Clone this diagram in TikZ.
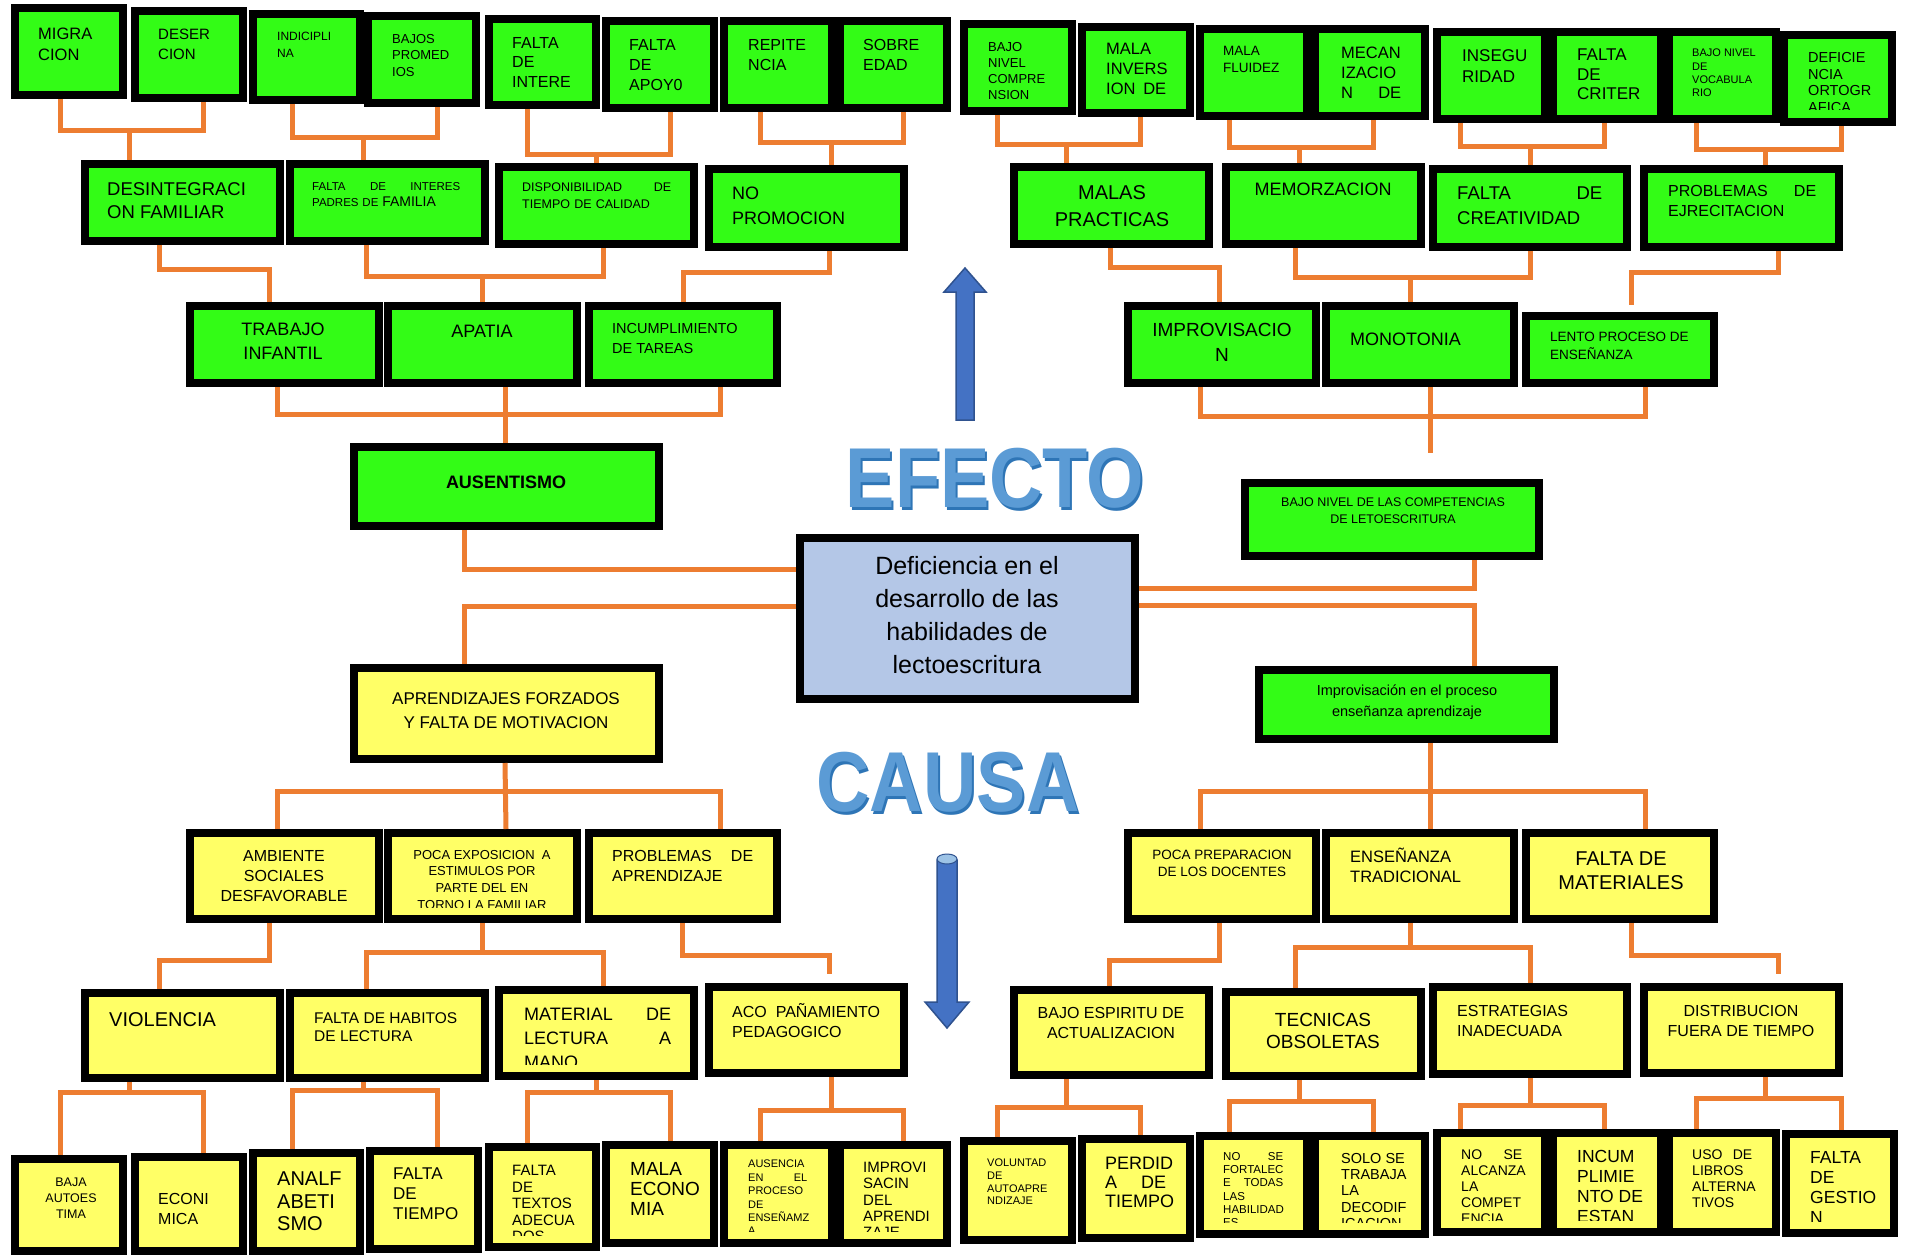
\documentclass[tikz,border=0pt]{standalone}
\usepackage{fontspec}
\setmainfont{Liberation Sans}
\usetikzlibrary{calc}
\definecolor{bgreen}{HTML}{33FC16}
\definecolor{byellow}{HTML}{FFFF66}
\definecolor{cblue}{HTML}{B4C7E7}
\definecolor{corange}{HTML}{ED7D31}
\definecolor{ablue}{HTML}{4472C4}
\definecolor{aedge}{HTML}{2F528F}
\definecolor{capblue}{HTML}{9DC3E6}
\definecolor{wblue}{HTML}{5B9BD5}
\definecolor{wdark}{HTML}{2E75B6}
\newcommand\fz[2]{\fontsize{#1}{#2}\selectfont}
\newcommand\jf{\hskip 0pt plus 1filll\relax}
\tikzset{
 box/.style={draw=black, line width=8pt, inner sep=0pt, rectangle},
 gb/.style={box, fill=bgreen},
 yb/.style={box, fill=byellow},
 cb/.style={box, fill=cblue},
 tx/.style={inner sep=0pt, anchor=north west, align=left, text=black},
 tc/.style={inner sep=0pt, anchor=north, align=center, text=black},
 conn/.style={draw=corange, line width=5pt},
 bigword/.style={inner sep=0pt, font=\bfseries\fz{85}{85}},
}
\newcommand\bx[8]{%
  \pgfmathsetmacro\bxw{#4-#2-8}%
  \pgfmathsetmacro\bxh{#5-#3-8}%
  \pgfmathsetmacro\bxcx{(#2+#4)/2}%
  \pgfmathsetmacro\bxcy{(#3+#5)/2}%
  \node[#6, minimum width=\bxw pt, minimum height=\bxh pt] (#1) at (\bxcx,\bxcy) {};
  \begin{scope}
    \clip (#2+8,#3+8) rectangle (#4-8,#5-16);
    \node[tx, #7] (#1t) {#8};
  \end{scope}}
\begin{document}
\begin{tikzpicture}[x=1pt,y=-1pt]
\useasboundingbox (0,0) rectangle (1908,1257);
\fill[white] (0,0) rectangle (1908,1257);

% ---------- EFFECT row 1
\bx{e1}{11}{4}{127}{99}{gb}{font=\fz{16.5}{21}, at={(38,28)}}{MIGRA\\CION}
\bx{e2}{131}{7}{247}{102}{gb}{font=\fz{15}{20}, at={(158,29)}}{DESER\\CION}
\bx{e3}{249}{10}{364}{104}{gb}{font=\fz{12}{17}, at={(277,32)}}{INDICIPLI\\NA}
\bx{e4}{364}{12}{480}{107}{gb}{font=\fz{13}{16.7}, at={(392,34)}}{BAJOS\\PROMED\\IOS}
\bx{e5}{485}{15}{600}{109}{gb}{font=\fz{16}{19.5}, at={(512,37)}}{FALTA\\DE\\INTERE}
\bx{e6}{602}{17}{718}{112}{gb}{font=\fz{16}{20}, at={(629,39)}}{FALTA\\DE\\APOY0}
\bx{e7}{720}{17}{836}{112}{gb}{font=\fz{16}{20}, at={(748,39)}}{REPITE\\NCIA}
\bx{e8}{836}{17}{951}{112}{gb}{font=\fz{16}{20}, at={(863,39)}}{SOBRE\\EDAD}
\bx{e9}{960}{20}{1076}{115}{gb}{font=\fz{13}{16.2}, at={(988,42)}}{BAJO\\NIVEL\\COMPRE\\NSION}
\bx{e10}{1078}{23}{1194}{117}{gb}{font=\fz{16.5}{20}, at={(1106,43)}, text width=60}{MALA\\INVERS\\ION\jf DE}
\bx{e11}{1196}{25}{1311}{120}{gb}{font=\fz{13.5}{17}, at={(1223,46)}}{MALA\\FLUIDEZ}
\bx{e12}{1311}{25}{1429}{120}{gb}{font=\fz{16.5}{20}, at={(1341,47)}, text width=60}{MECAN\\IZACIO\\N\jf DE}
\bx{e13}{1433}{28}{1549}{123}{gb}{font=\fz{17}{21}, at={(1462,49)}}{INSEGU\\RIDAD}
\bx{e14}{1549}{28}{1665}{123}{gb}{font=\fz{17}{19.5}, at={(1577,49)}}{FALTA\\DE\\CRITER}
\bx{e15}{1665}{28}{1780}{123}{gb}{font=\fz{11}{13.2}, at={(1692,49)}}{BAJO NIVEL\\DE\\VOCABULA\\RIO}
\bx{e16}{1780}{31}{1896}{126}{gb}{font=\fz{14.5}{16.7}, at={(1808,52)}}{DEFICIE\\NCIA\\ORTOGR\\AFICA}

% ---------- EFFECT row 2
\bx{e17}{81}{160}{284}{245}{gb}{font=\fz{18.5}{23}, at={(107,182)}}{DESINTEGRACI\\ON FAMILIAR}
\bx{e18}{286}{160}{489}{245}{gb}{font=\fz{11.5}{16}, at={(312,182)}, text width=148}{FALTA\jf DE\jf INTERES\\PADRES DE {\fz{14}{16}FAMILIA}}
\bx{e19}{495}{163}{698}{248}{gb}{font=\fz{12.5}{17}, at={(522,183)}, text width=149}{DISPONIBILIDAD\jf DE\\TIEMPO DE CALIDAD}
\bx{e20}{705}{165}{908}{251}{gb}{font=\fz{18}{25}, at={(732,187)}}{NO\\PROMOCION}
\bx{e25}{1010}{163}{1213}{248}{gb}{tc, font=\fz{20}{27}, at={(1112,185)}}{MALAS\\PRACTICAS}
\bx{e26}{1222}{163}{1425}{248}{gb}{tc, font=\fz{18}{22}, at={(1323,183)}}{MEMORZACION}
\bx{e27}{1429}{165}{1631}{251}{gb}{font=\fz{18.5}{25}, at={(1457,187)}, text width=145}{FALTA\jf DE\\CREATIVIDAD}
\bx{e28}{1640}{165}{1843}{251}{gb}{font=\fz{16}{20}, at={(1668,185)}, text width=148}{PROBLEMAS\jf DE\\EJRECITACION}

% ---------- EFFECT row 3
\bx{e21}{186}{302}{383}{387}{gb}{tc, font=\fz{18}{24}, at={(283,323)}}{TRABAJO\\INFANTIL}
\bx{e22}{384}{302}{581}{387}{gb}{tc, font=\fz{18}{24}, at={(482,325)}}{APATIA}
\bx{e23}{585}{302}{781}{387}{gb}{font=\fz{14.5}{20}, at={(612,323)}}{INCUMPLIMIENTO\\DE TAREAS}
\bx{e29}{1124}{302}{1320}{387}{gb}{tc, font=\fz{19}{25}, at={(1222,323)}}{IMPROVISACIO\\N}
\bx{e30}{1322}{302}{1518}{387}{gb}{font=\fz{18}{22}, at={(1350,333)}}{MONOTONIA}
\bx{e31}{1522}{312}{1718}{387}{gb}{font=\fz{13.5}{17.5}, at={(1550,332)}}{LENTO PROCESO DE\\ENSEÑANZA}

\bx{e24}{350}{443}{663}{530}{gb}{tc, font=\bfseries\fz{18}{22}, at={(506,476)}}{AUSENTISMO}
\bx{e32}{1241}{479}{1543}{560}{gb}{tc, font=\fz{12.5}{16.5}, at={(1393,498)}}{BAJO NIVEL DE LAS COMPETENCIAS\\DE LETOESCRITURA}

% ---------- centre
\bx{c0}{796}{534}{1139}{703}{cb}{tc, font=\fz{25}{33}, at={(967,556)}}{Deficiencia en el\\desarrollo de las\\habilidades de\\lectoescritura}
\bx{c1}{1255}{666}{1558}{743}{gb}{tc, font=\fz{14.5}{21}, at={(1407,685)}}{Improvisación en el proceso\\enseñanza aprendizaje}
\bx{c2}{350}{664}{663}{763}{yb}{tc, font=\fz{17}{24}, at={(506,692)}}{APRENDIZAJES FORZADOS\\Y FALTA DE MOTIVACION}

% ---------- CAUSE row 1
\bx{c3}{186}{829}{383}{923}{yb}{tc, font=\fz{16}{20}, at={(284,850)}}{AMBIENTE\\SOCIALES\\DESFAVORABLE}
\bx{c4}{384}{829}{581}{923}{yb}{tc, font=\fz{13}{16.7}, at={(482,850)}}{POCA EXPOSICION\ \ A\\ESTIMULOS POR\\PARTE DEL EN\\TORNO LA FAMILIAR}
\bx{c5}{585}{829}{781}{923}{yb}{font=\fz{16}{20}, at={(612,850)}, text width=141}{PROBLEMAS\jf DE\\APRENDIZAJE}
\bx{c6}{1124}{829}{1320}{923}{yb}{tc, font=\fz{13.5}{17}, at={(1222,850)}}{POCA PREPARACION\\DE LOS DOCENTES}
\bx{c7}{1322}{829}{1518}{923}{yb}{font=\fz{16.5}{20}, at={(1350,848)}}{ENSEÑANZA\\TRADICIONAL}
\bx{c8}{1522}{829}{1718}{923}{yb}{tc, font=\fz{20}{24}, at={(1621,852)}}{FALTA DE\\MATERIALES}

% ---------- CAUSE row 2
\bx{c9}{81}{989}{284}{1082}{yb}{font=\fz{20}{24}, at={(109,1012)}}{VIOLENCIA}
\bx{c10}{286}{989}{489}{1082}{yb}{font=\fz{15.5}{18}, at={(314,1012)}}{FALTA DE HABITOS\\DE LECTURA}
\bx{c11}{495}{986}{698}{1080}{yb}{font=\fz{18}{24}, at={(524,1008)}, text width=147}{MATERIAL\jf DE\\LECTURA\jf A\\MANO}
\bx{c12}{705}{983}{908}{1077}{yb}{font=\fz{16}{20}, at={(732,1003)}}{ACO\ \ PAÑAMIENTO\\PEDAGOGICO}
\bx{c13}{1010}{986}{1213}{1079}{yb}{tc, font=\fz{16}{20}, at={(1111,1007)}}{BAJO ESPIRITU DE\\ACTUALIZACION}
\bx{c14}{1222}{988}{1425}{1080}{yb}{tc, font=\fz{19}{22}, at={(1323,1013)}}{TECNICAS\\OBSOLETAS}
\bx{c15}{1429}{983}{1631}{1078}{yb}{font=\fz{16}{20}, at={(1457,1005)}}{ESTRATEGIAS\\INADECUADA}
\bx{c16}{1640}{983}{1843}{1077}{yb}{tc, font=\fz{16}{20}, at={(1741,1005)}}{DISTRIBUCION\\FUERA DE TIEMPO}

% ---------- CAUSE row 3
\bx{c17}{11}{1155}{127}{1255}{yb}{tc, font=\fz{12.5}{16}, at={(71,1178)}}{BAJA\\AUTOES\\TIMA}
\bx{c18}{131}{1153}{247}{1255}{yb}{font=\fz{16}{20}, at={(158,1193)}}{ECONI\\MICA}
\bx{c19}{249}{1149}{364}{1255}{yb}{font=\fz{20}{22.5}, at={(277,1172)}}{ANALF\\ABETI\\SMO}
\bx{c20}{366}{1147}{482}{1253}{yb}{font=\fz{17}{20}, at={(393,1168)}}{FALTA\\DE\\TIEMPO}
\bx{c21}{485}{1143}{600}{1251}{yb}{font=\fz{15}{16.5}, at={(512,1165)}}{FALTA\\DE\\TEXTOS\\ADECUA\\DOS}
\bx{c22}{602}{1141}{718}{1247}{yb}{font=\fz{19}{20}, at={(630,1162)}}{MALA\\ECONO\\MIA}
\bx{c23}{720}{1141}{836}{1247}{yb}{font=\fz{11}{13.4}, at={(748,1160)}, text width=59}{AUSENCIA\\EN\jf EL\\PROCESO\\DE\\ENSEÑAMZ\\A}
\bx{c24}{836}{1141}{951}{1247}{yb}{font=\fz{15}{16.3}, at={(863,1162)}}{IMPROVI\\SACIN\\DEL\\APRENDI\\ZAJE}
\bx{c25}{960}{1137}{1076}{1244}{yb}{font=\fz{11}{12.7}, at={(987,1159)}}{VOLUNTAD\\DE\\AUTOAPRE\\NDIZAJE}
\bx{c26}{1078}{1135}{1194}{1242}{yb}{font=\fz{18}{19}, at={(1105,1157)}, text width=61}{PERDID\\A\jf DE\\TIEMPO}
\bx{c27}{1196}{1132}{1311}{1238}{yb}{font=\fz{11.5}{13.3}, at={(1223,1152)}, text width=60}{NO\jf SE\\FORTALEC\\E\jf TODAS\\LAS\\HABILIDAD\\ES}
\bx{c28}{1311}{1132}{1429}{1238}{yb}{font=\fz{14.5}{16.3}, at={(1341,1153)}}{SOLO SE\\TRABAJA\\LA\\DECODIF\\ICACION}
\bx{c29}{1433}{1129}{1549}{1236}{yb}{font=\fz{14}{16}, at={(1461,1150)}, text width=61}{NO\jf SE\\ALCANZA\\LA\\COMPET\\ENCIA}
\bx{c30}{1549}{1129}{1665}{1236}{yb}{font=\fz{17.5}{20}, at={(1577,1150)}}{INCUM\\PLIMIE\\NTO DE\\ESTAN}
\bx{c31}{1665}{1129}{1780}{1236}{yb}{font=\fz{14}{16}, at={(1692,1150)}, text width=60}{USO\jf DE\\LIBROS\\ALTERNA\\TIVOS}
\bx{c32}{1782}{1130}{1898}{1237}{yb}{font=\fz{17.5}{20}, at={(1810,1151)}}{FALTA\\DE\\GESTIO\\N}

% ---------- free ends
\coordinate (k1) at (1631,305);
\coordinate (k2) at (1430,453);
\coordinate (k3) at (829,974);
\coordinate (k4) at (1778,974);

% ---------- connectors: effect top
\draw[conn] ([xshift=-9]e1.south) -- ++(0,32) -| ([xshift=14]e2.south);
\draw[conn] ([xshift=-53.5]e17.north) -- ++(0,-29);
\draw[conn] ([xshift=-14.5]e3.south) -- ++(0,34) -| ([xshift=15]e4.south);
\draw[conn] ([xshift=-24.5]e18.north) -- ++(0,-22);
\draw[conn] ([xshift=-15.5]e5.south) -- ++(0,46) -| ([xshift=10]e6.south);
\draw[conn] (e19.north) -- ++(0,-8);
\draw[conn] ([xshift=-18]e7.south) -- ++(0,31) -| ([xshift=9.5]e8.south);
\draw[conn] ([xshift=24.5]e20.north) -- ++(0,-22);
\draw[conn] ([xshift=-21]e9.south) -- ++(0,30) -| ([xshift=4]e10.south);
\draw[conn] ([xshift=-45.5]e25.north) -- ++(0,-18);
\draw[conn] ([xshift=-24.5]e11.south) -- ++(0,28) -| ([xshift=3]e12.south);
\draw[conn] ([xshift=-24.5]e26.north) -- ++(0,-15);
\draw[conn] ([xshift=-31]e13.south) -- ++(0,24) -| ([xshift=-3]e14.south);
\draw[conn] (e27.north) -- ++(0,-18);
\draw[conn] ([xshift=-26.5]e15.south) -- ++(0,27) -| ([xshift=3]e16.south);
\draw[conn] ([xshift=23.5]e28.north) -- ++(0,-15);

% effect row2 -> row3
\draw[conn] ([xshift=-23.5]e17.south) -- ++(0,25) -| ([xshift=-15.5]e21.north);
\draw[conn] ([xshift=-21.5]e18.south) -- ++(0,32) -| ([xshift=6.5]e19.south);
\draw[conn] (e22.north) -- ++(0,-25);
\draw[conn] ([xshift=22.5]e20.south) -- ++(0,22) -| (e23.north);
\draw[conn] ([xshift=-1.5]e25.south) -- ++(0,20) -| ([xshift=-3]e29.north);
\draw[conn] ([xshift=-28.5]e26.south) -- ++(0,30) -| (e27.south);
\draw[conn] ([xshift=-10]e30.north) -- ++(0,-24);
\draw[conn] ([xshift=36.5]e28.south) -- ++(0,22) -| (k1);

% effect row3 -> results
\draw[conn] ([xshift=-7.5]e21.south) -- ++(0,27) -| ([xshift=37]e23.south);
\draw[conn] ([xshift=22.5]e22.south) -- ([xshift=-1.5]e24.north);
\draw[conn] ([xshift=-22]e29.south) -- ++(0,29) -| ([xshift=25]e31.south);
\draw[conn] ([xshift=10]e30.south) -- (k2);

% centre links
\draw[conn] ([xshift=-42.5]e24.south) |- ([yshift=49.5]c0.west);
\draw[conn] ([yshift=12.5]c0.west) -| ([xshift=-42.5]c2.north);
\draw[conn] ([yshift=30.5]c0.east) -| ([xshift=82]e32.south);
\draw[conn] ([yshift=13.5]c0.east) -| ([xshift=67.5]c1.north);

% cause row1
\draw[conn] ([xshift=-1.5]c2.south) -- ([xshift=23.5]c4.north);
\draw[conn] ([xshift=-7.5]c3.north) -- ++(0,-38) -| ([xshift=37]c5.north);
\draw[conn] ([xshift=23.5]c1.south) -- ([xshift=10]c7.north);
\draw[conn] ([xshift=-22]c6.north) -- ++(0,-38) -| ([xshift=25]c8.north);

% cause row1 -> row2
\draw[conn] ([xshift=-15.5]c3.south) -- ++(0,37) -| ([xshift=-23.5]c9.north);
\draw[conn] (c4.south) -- ++(0,29);
\draw[conn] ([xshift=-21.5]c10.north) -- ++(0,-37) -| ([xshift=6.5]c11.north);
\draw[conn] ([xshift=-1]c5.south) -- ++(0,32) -| (k3);
\draw[conn] ([xshift=-3]c6.south) -- ++(0,37) -| ([xshift=-2.5]c13.north);
\draw[conn] ([xshift=-10]c7.south) -- ++(0,24);
\draw[conn] ([xshift=-28.5]c14.north) -- ++(0,-41) -| (c15.north);
\draw[conn] ([xshift=11]c8.south) -- ++(0,32) -| (k4);

% cause row2 -> row3
\draw[conn] ([xshift=-53.5]c9.south) -- ++(0,10);
\draw[conn] ([xshift=-9]c17.north) -- ++(0,-63) -| ([xshift=14]c18.north);
\draw[conn] ([xshift=-24.5]c10.south) -- ++(0,8);
\draw[conn] ([xshift=-14.5]c19.north) -- ++(0,-59) -| ([xshift=13]c20.north);
\draw[conn] (c11.south) -- ++(0,12);
\draw[conn] ([xshift=-15.5]c21.north) -- ++(0,-51) -| ([xshift=10]c22.north);
\draw[conn] ([xshift=24.5]c12.south) -- ++(0,33);
\draw[conn] ([xshift=-18]c23.north) -- ++(0,-31) -| ([xshift=9.5]c24.north);
\draw[conn] ([xshift=-45.5]c13.south) -- ++(0,28);
\draw[conn] ([xshift=-21]c25.north) -- ++(0,-30) -| ([xshift=4]c26.north);
\draw[conn] ([xshift=-24.5]c14.south) -- ++(0,21);
\draw[conn] ([xshift=-24.5]c27.north) -- ++(0,-31) -| ([xshift=3]c28.north);
\draw[conn] (c15.south) -- ++(0,27);
\draw[conn] ([xshift=-31]c29.north) -- ++(0,-24) -| ([xshift=-3]c30.north);
\draw[conn] ([xshift=23.5]c16.south) -- ++(0,21);
\draw[conn] ([xshift=-26.5]c31.north) -- ++(0,-31) -| ([xshift=1]c32.north);

% ---------- block arrows
\filldraw[fill=ablue, draw=aedge, line width=1.5pt] (956,420) -- (956,292) -- (944,292) -- (965,268) -- (986,292) -- (974,292) -- (974,420) -- cycle;
\filldraw[fill=ablue, draw=aedge, line width=1.5pt] (937,860) -- (937,1002) -- (925,1002) -- (947,1028) -- (969,1002) -- (957,1002) -- (957,860) -- cycle;
\filldraw[fill=capblue, draw=aedge, line width=1pt] (947,859) ellipse (10 and 5);

% ---------- big words
\node[bigword, text=wdark] (efectoS) at (997,481) {\scalebox{0.87}[1]{EFECTO}};
\node[bigword, text=wblue] (efecto) at (995,478) {\scalebox{0.87}[1]{EFECTO}};
\node[bigword, text=wdark] (causaS) at (950,785) {\scalebox{0.87}[1]{CAUSA}};
\node[bigword, text=wblue] (causa) at (948,782) {\scalebox{0.87}[1]{CAUSA}};
\end{tikzpicture}
\end{document}
